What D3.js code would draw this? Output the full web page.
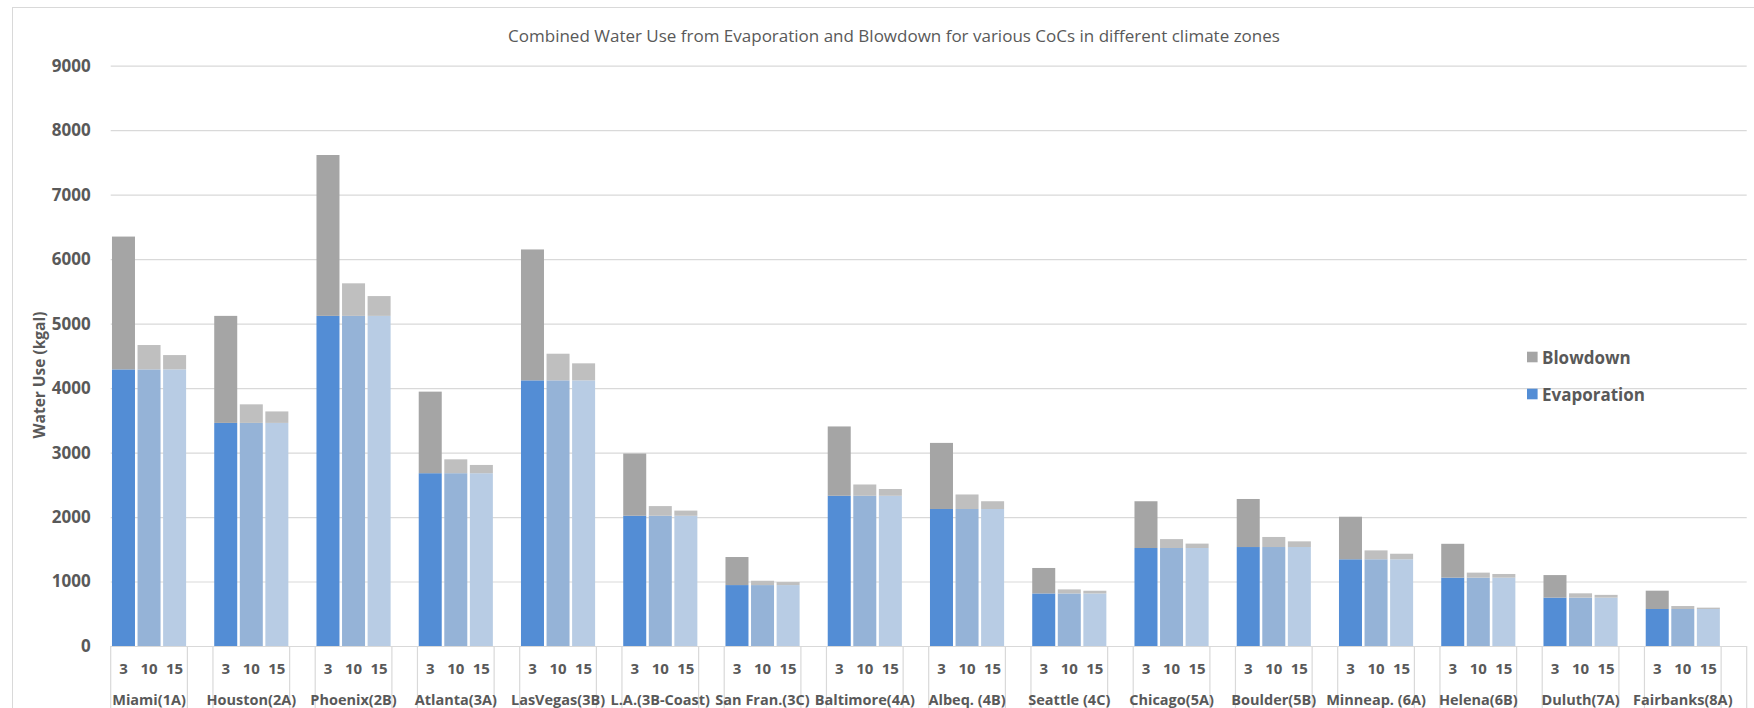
<!DOCTYPE html>
<html lang="en">
<head>
<meta charset="UTF-8">
<title>Combined Water Use</title>
<script src="https://cdnjs.cloudflare.com/ajax/libs/d3/7.8.5/d3.min.js"></script>
<style>
    body { margin: 0; background: #fff; }
    svg { display: block; font-family: "Open Sans", sans-serif; }
</style>
</head>
<body>
<svg id="chart" width="1754" height="708"></svg>
<script>
    // climate zones, CoC levels and values (kgal)
    const cities = ["Miami(1A)", "Houston(2A)", "Phoenix(2B)", "Atlanta(3A)", "LasVegas(3B)", "L.A.(3B-Coast)",
        "San Fran.(3C)", "Baltimore(4A)", "Albeq. (4B)", "Seattle (4C)", "Chicago(5A)", "Boulder(5B)",
        "Minneap. (6A)", "Helena(6B)", "Duluth(7A)", "Fairbanks(8A)"];
    const cocs = ["3", "10", "15"];
    const yTicks = [0, 1000, 2000, 3000, 4000, 5000, 6000, 7000, 8000, 9000];

    // evaporation is the same for every CoC of a city
    const evaporation = [4290, 3460, 5120, 2680, 4120, 2020, 945, 2330, 2125, 815, 1520, 1535, 1345, 1060, 750, 574];
    const blowdown3  = [2060, 1660, 2495, 1265, 2030, 965, 435, 1075, 1025, 395, 725, 745, 660, 525, 350, 284];
    const blowdown10 = [378, 288, 505, 215, 413, 150, 67, 175, 225, 63, 138, 156, 138, 78, 67, 46];
    const blowdown15 = [222, 178, 307, 128, 264, 80, 47, 105, 120, 42, 68, 88, 86, 57, 43, 21];

    const evapColors = ["#538DD5", "#95B3D7", "#B8CCE4"];
    const blowColors = ["#A5A5A5", "#BFBFBF", "#BFBFBF"];
    const textColor = "#595959";
    const gridColor = "#D9D9D9";

    const svg = d3.select("#chart");
    const plotLeft = 110.7, plotRight = 1746.7, plotTop = 65.7, plotBottom = 646;

    // outer chart frame (runs off the right/bottom edge like the original)
    svg.append("rect")
        .attr("x", 12.5).attr("y", 7.5)
        .attr("width", 1900).attr("height", 900)
        .attr("fill", "none").attr("stroke", gridColor);

    svg.append("text")
        .attr("x", 894).attr("y", 35)
        .attr("text-anchor", "middle")
        .attr("dominant-baseline", "central")
        .attr("font-size", "17px")
        .attr("fill", textColor)
        .text("Combined Water Use from Evaporation and Blowdown for various CoCs in different climate zones");

    const y = d3.scaleLinear().domain([0, 9000]).range([plotBottom, plotTop]);

    // each city gets 4 slots: the three CoCs and an empty spacer
    const x0 = d3.scaleBand().domain(cities).range([plotLeft, plotRight]);
    const x1 = d3.scaleBand().domain(cocs.concat([""])).range([0, x0.bandwidth()]);
    const barW = x1.bandwidth() * 0.9;

    // y axis with gridlines
    const yAxis = svg.append("g")
        .attr("transform", `translate(${plotLeft},0)`)
        .call(d3.axisLeft(y).tickValues(yTicks).tickFormat(d3.format("d"))
            .tickSize(-(plotRight - plotLeft)).tickPadding(20));
    yAxis.select(".domain").remove();
    yAxis.selectAll(".tick line").attr("stroke", gridColor).attr("stroke-width", 1.2);
    yAxis.selectAll(".tick text")
        .attr("fill", textColor)
        .attr("font-size", "17px")
        .attr("font-weight", "bold")
        .attr("font-family", "'Open Sans', sans-serif");

    svg.append("text")
        .attr("transform", "translate(39,375) rotate(-90)")
        .attr("text-anchor", "middle")
        .attr("dominant-baseline", "central")
        .attr("font-size", "15.5px")
        .attr("font-weight", "bold")
        .attr("fill", textColor)
        .text("Water Use (kgal)");

    // bar rows: one per city and CoC
    const blowByCoc = [blowdown3, blowdown10, blowdown15];
    const rows = [];
    cities.forEach((c, i) => {
        cocs.forEach((k, j) => {
            rows.push({ city: c, coc: k, ci: j, evap: evaporation[i], blow: blowByCoc[j][i] });
        });
    });
    const stacked = d3.stack().keys(["evap", "blow"])(rows);

    const barX = d => x0(d.data.city) + x1(d.data.coc) + (x1.bandwidth() - barW) / 2;

    svg.append("g").selectAll("g")
        .data(stacked)
        .join("g")
        .selectAll("rect")
        .data(s => s.map(d => Object.assign(d, { key: s.key })))
        .join("rect")
        .attr("x", barX)
        .attr("width", barW)
        .attr("y", d => y(d[1]))
        .attr("height", d => y(d[0]) - y(d[1]))
        .attr("fill", d => d.key === "evap" ? evapColors[d.data.ci] : blowColors[d.data.ci]);

    // two level category axis
    const cat = svg.append("g");
    const sepX = [];
    cities.forEach(c => {
        sepX.push(x0(c));
        sepX.push(x0(c) + x1(""));
    });
    sepX.push(plotRight);
    cat.selectAll("line.sep")
        .data(sepX)
        .join("line")
        .attr("class", "sep")
        .attr("x1", d => d).attr("x2", d => d)
        .attr("y1", plotBottom).attr("y2", 720)
        .attr("stroke", gridColor).attr("stroke-width", 1.2);

    cat.selectAll("text.coc")
        .data(rows)
        .join("text")
        .attr("class", "coc")
        .attr("x", d => x0(d.city) + x1(d.coc) + x1.bandwidth() / 2)
        .attr("y", 668)
        .attr("text-anchor", "middle")
        .attr("dominant-baseline", "central")
        .attr("font-size", "15px")
        .attr("font-weight", "bold")
        .attr("fill", textColor)
        .text(d => d.coc);

    cat.selectAll("text.city")
        .data(cities)
        .join("text")
        .attr("class", "city")
        .attr("x", d => x0(d) + x1("") / 2)
        .attr("y", 699)
        .attr("text-anchor", "middle")
        .attr("dominant-baseline", "central")
        .attr("font-size", "14.5px")
        .attr("font-weight", "bold")
        .attr("fill", textColor)
        .text(d => d);

    // legend
    const legendItems = [
        { name: "Blowdown", color: blowColors[0], cy: 357 },
        { name: "Evaporation", color: evapColors[0], cy: 394 }
    ];
    const legend = svg.append("g").selectAll("g")
        .data(legendItems)
        .join("g");
    legend.append("rect")
        .attr("x", 1527).attr("y", d => d.cy - 5.3)
        .attr("width", 10.6).attr("height", 10.6)
        .attr("fill", d => d.color);
    legend.append("text")
        .attr("x", 1542).attr("y", d => d.cy)
        .attr("dominant-baseline", "central")
        .attr("font-size", "17px")
        .attr("font-weight", "bold")
        .attr("fill", textColor)
        .text(d => d.name);
</script>
</body>
</html>
